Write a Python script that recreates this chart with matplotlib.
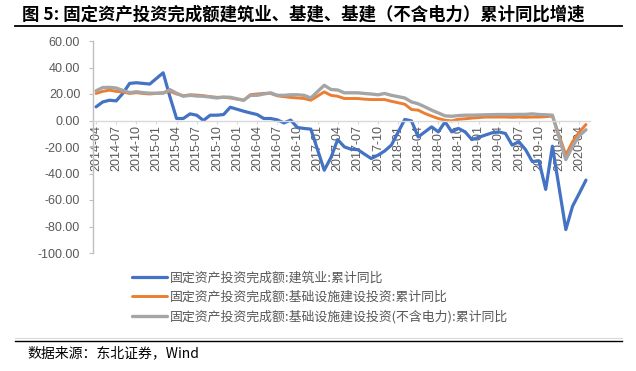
import matplotlib
matplotlib.use("Agg")
import matplotlib.pyplot as plt
from matplotlib.lines import Line2D

plt.rcParams['font.family'] = ['Noto Sans CJK SC', 'DejaVu Sans']

months = ["2014-04", "2014-05", "2014-06", "2014-07", "2014-08", "2014-09", "2014-10", "2014-11", "2014-12",
          "2015-02", "2015-03", "2015-04", "2015-05", "2015-06", "2015-07", "2015-08", "2015-09", "2015-10", "2015-11", "2015-12",
          "2016-02", "2016-03", "2016-04", "2016-05", "2016-06", "2016-07", "2016-08", "2016-09", "2016-10", "2016-11", "2016-12",
          "2017-02", "2017-03", "2017-04", "2017-05", "2017-06", "2017-07", "2017-08", "2017-09", "2017-10", "2017-11", "2017-12",
          "2018-02", "2018-03", "2018-04", "2018-05", "2018-06", "2018-07", "2018-08", "2018-09", "2018-10", "2018-11", "2018-12",
          "2019-02", "2019-03", "2019-04", "2019-05", "2019-06", "2019-07", "2019-08", "2019-09", "2019-10", "2019-11", "2019-12",
          "2020-02", "2020-03", "2020-04", "2020-05"]

construction = [10.3, 14.0, 15.3, 14.8, 20.5, 28.0, 28.5, 28.0, 27.5,
                36.0, 18.0, 1.5, 1.5, 5.0, 4.0, 0.0, 4.0, 4.0, 4.5, 10.0,
                7.0, 5.7, 4.5, 1.5, 1.5, 0.5, -1.8, 0.3, -5.3, -6.0, -6.5,
                -37.5, -28.0, -14.4, -19.9, -21.7, -22.0, -25.4, -28.7, -26.2, -23.0, -18.6,
                0.8, -0.3, -12.4, -8.6, -4.8, -8.6, -1.0, -8.6, -6.0, -8.6, -14.4,
                -11.0, -9.3, -8.6, -9.8, -18.6, -16.0, -22.0, -31.0, -30.5, -52.0, -19.4,
                -82.3, -64.7, -55.0, -45.0]

infra = [20.4, 22.0, 22.9, 22.0, 21.5, 20.4, 21.0, 20.4, 20.0,
         21.0, 22.0, 20.0, 18.7, 19.4, 19.2, 18.7, 18.0, 17.5, 17.5, 17.0,
         15.3, 19.5, 20.0, 20.5, 20.5, 18.6, 18.0, 17.4, 17.0, 16.6, 15.3,
         21.6, 19.0, 18.3, 16.6, 16.6, 16.6, 16.1, 15.8, 15.8, 15.8, 14.5,
         12.3, 8.3, 7.8, 5.3, 3.3, 1.5, 0.2, -0.3, 0.9, 1.3, 1.8,
         2.6, 2.6, 2.6, 2.6, 2.4, 2.6, 2.4, 2.6, 2.6, 2.9, 3.3,
         -26.0, -16.0, -8.8, -3.0]

infra_ex_power = [22.4, 24.9, 25.0, 24.5, 22.7, 21.0, 21.7, 21.0, 20.6,
                  20.6, 23.3, 20.6, 18.3, 19.0, 18.5, 18.3, 17.7, 17.0, 17.7, 17.5,
                  15.3, 19.0, 19.0, 20.0, 20.9, 19.0, 19.0, 19.4, 19.4, 19.0, 17.0,
                  26.6, 23.4, 23.0, 20.9, 20.9, 20.9, 20.4, 20.0, 19.4, 20.4, 19.0,
                  17.0, 14.0, 12.6, 10.3, 7.8, 5.7, 3.5, 3.2, 3.7, 4.0, 4.0,
                  4.3, 4.4, 4.5, 4.5, 4.5, 4.6, 4.6, 5.0, 4.5, 4.3, 4.0,
                  -29.5, -19.5, -11.5, -7.0]

series_names = ["固定资产投资完成额:建筑业:累计同比",
                "固定资产投资完成额:基础设施建设投资:累计同比",
                "固定资产投资完成额:基础设施建设投资(不含电力):累计同比"]
series_colors = ["#4472C4", "#ED7D31", "#A5A5A5"]

tick_labels = ["2014-04", "2014-07", "2014-10", "2015-01", "2015-04", "2015-07", "2015-10",
               "2016-01", "2016-04", "2016-07", "2016-10", "2017-01", "2017-04", "2017-07", "2017-10",
               "2018-01", "2018-04", "2018-07", "2018-10", "2019-01", "2019-04", "2019-07", "2019-10",
               "2020-01", "2020-04"]
y_ticks = [60, 40, 20, 0, -20, -40, -60, -80, -100]

title_text = "图 5: 固定资产投资完成额建筑业、基建、基建（不含电力）累计同比增速"
source_text = "数据来源：东北证券，Wind"


def month_index(s):
    y, m = s.split("-")
    return (int(y) - 2014) * 12 + int(m) - 4


x = [month_index(s) for s in months]
tick_pos = [month_index(s) for s in tick_labels]

W, H = 636, 371
fig = plt.figure(figsize=(W / 100, H / 100), dpi=100)
left, right, top, bottom = 92.7, 590, 41, 253
ax = fig.add_axes([left / W, 1 - bottom / H, (right - left) / W, (bottom - top) / H])

handles = []
for vals, name, col, lw in zip([construction, infra, infra_ex_power], series_names, series_colors, [2.3, 2.1, 2.4]):
    ln, = ax.plot(x, vals, color=col, lw=lw, solid_capstyle='round', solid_joinstyle='round', label=name)
    handles.append(ln)

for s in ['top', 'right']:
    ax.spines[s].set_visible(False)
ax.spines['bottom'].set_position(('data', 0))
ax.spines['bottom'].set_color('#d9d9d9')
ax.spines['bottom'].set_linewidth(1.0)
ax.spines['left'].set_color('#bfbfbf')
ax.spines['left'].set_linewidth(1.0)

ax.set_ylim(-100, 60)
ax.set_xlim(-0.5, 73.6)
ax.set_yticks(y_ticks)
ax.set_yticklabels([f"{v:.2f}" for v in y_ticks], fontfamily='Liberation Sans', fontsize=9, color='#595959')
ax.set_xticks(tick_pos)
ax.set_xticklabels(tick_labels, fontfamily='Liberation Sans', fontsize=9, color='#595959')
for lab in ax.get_xticklabels():
    lab.set_rotation(90)
    lab.set_ha('center')
    lab.set_va('top')
ax.tick_params(axis='y', length=3, width=0.8, color='#bfbfbf', pad=6)
ax.tick_params(axis='x', length=2.2, width=0.8, color='#d9d9d9', pad=0.8)
ax.set_facecolor('none')

# legend
fig.legend(handles=handles, loc='upper left', bbox_to_anchor=(132 / W, 1 - 272 / H),
           frameon=False, fontsize=9.3, handlelength=2.7, handletextpad=0.25,
           labelspacing=0.45, borderpad=0, borderaxespad=0, labelcolor='#595959')

# title and rules
fig.text(22 / W, 1 - 15 / H, title_text, fontsize=12.5, fontweight='bold', color='black',
         ha='left', va='center')
fig.add_artist(Line2D([15 / W, 622 / W], [1 - 26 / H, 1 - 26 / H], color='black', lw=1.3))
fig.add_artist(Line2D([15 / W, 622 / W], [1 - 338 / H, 1 - 338 / H], color='#d9d9d9', lw=0.8))
fig.add_artist(Line2D([15 / W, 622 / W], [1 - 341 / H, 1 - 341 / H], color='black', lw=1.0))
fig.text(27 / W, 1 - 353 / H, source_text, fontsize=10, color='black', ha='left', va='center',
         family=['Noto Sans CJK SC', 'Liberation Serif'])

fig.savefig("out.png", dpi=100)
